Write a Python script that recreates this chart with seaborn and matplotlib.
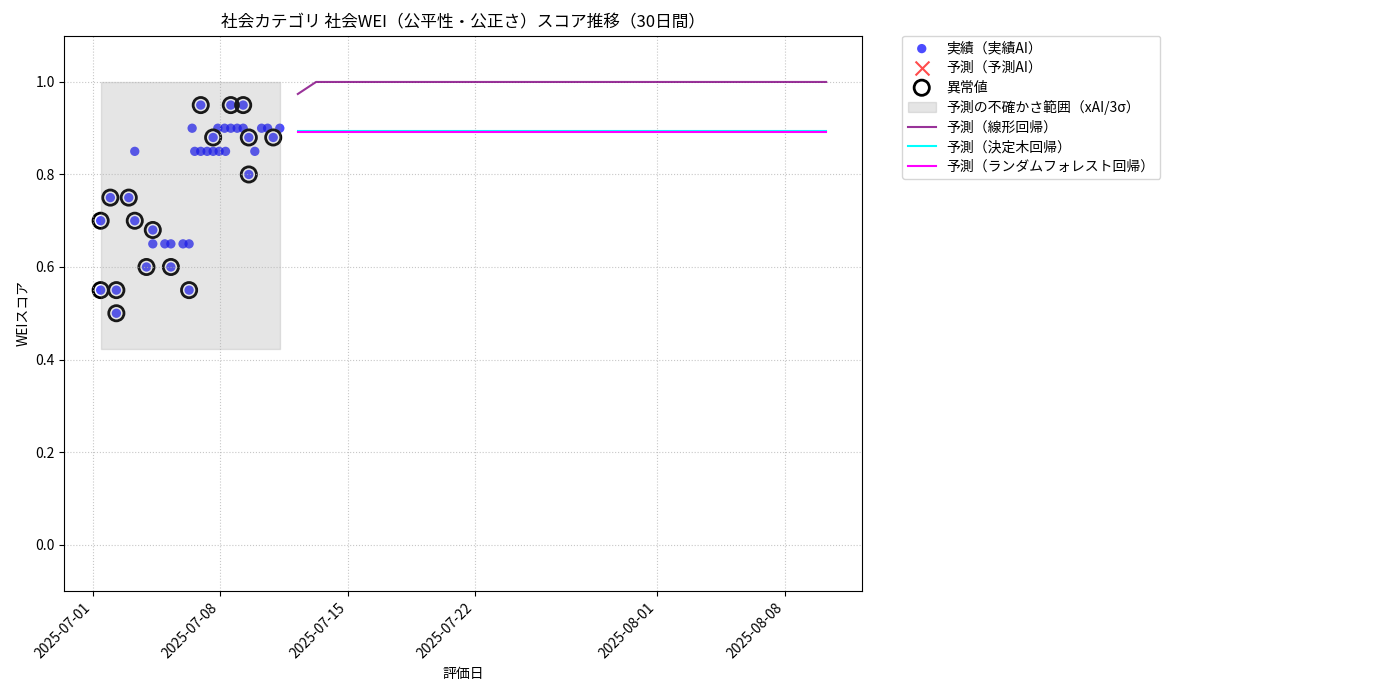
import pandas as pd
import matplotlib
matplotlib.use("Agg")
import matplotlib.pyplot as plt
import seaborn as sns
import numpy as np

plt.rcParams['font.family'] = ['Noto Sans CJK JP', 'DejaVu Sans']

# 実績データ（日時・スコア・異常フラグ）
actual_dates = [
    "2025-07-01 10:30", "2025-07-01 10:30", "2025-07-01 23:15",
    "2025-07-02 07:10", "2025-07-02 07:10", "2025-07-02 23:30",
    "2025-07-03 07:25", "2025-07-03 07:25", "2025-07-03 22:50",
    "2025-07-04 07:10", "2025-07-04 07:10", "2025-07-04 23:00",
    "2025-07-05 07:00", "2025-07-05 07:00", "2025-07-05 23:00",
    "2025-07-06 07:00", "2025-07-06 07:00", "2025-07-06 11:00",
    "2025-07-06 14:25", "2025-07-06 22:20", "2025-07-06 22:20",
    "2025-07-07 06:45", "2025-07-07 14:40", "2025-07-07 14:40",
    "2025-07-07 20:50", "2025-07-07 22:35", "2025-07-08 05:45",
    "2025-07-08 07:00", "2025-07-08 13:55", "2025-07-08 13:55",
    "2025-07-08 22:20", "2025-07-09 06:15", "2025-07-09 06:15",
    "2025-07-09 13:40", "2025-07-09 13:40", "2025-07-09 21:35",
    "2025-07-10 06:30", "2025-07-10 14:25", "2025-07-10 21:50",
    "2025-07-11 06:30",
]
actual_scores = [
    0.70, 0.55, 0.75,
    0.55, 0.50, 0.75,
    0.70, 0.85, 0.60,
    0.68, 0.65, 0.65,
    0.65, 0.60, 0.65,
    0.65, 0.55, 0.90,
    0.85, 0.95, 0.85,
    0.85, 0.88, 0.85,
    0.90, 0.85, 0.90,
    0.85, 0.95, 0.90,
    0.90, 0.95, 0.90,
    0.88, 0.80, 0.85,
    0.90, 0.90, 0.88,
    0.90,
]
is_anomaly = [
    1, 1, 1,
    1, 1, 1,
    1, 0, 1,
    1, 0, 0,
    0, 1, 0,
    0, 1, 0,
    0, 1, 0,
    0, 1, 0,
    0, 0, 0,
    0, 1, 0,
    0, 1, 0,
    1, 1, 0,
    0, 0, 1,
    0,
]

# 不確かさ範囲（xAI/3σ）
band_lower = 0.423
band_upper = 1.0

# 予測（30日間）
forecast_start = "2025-07-12 06:15"
forecast_linear = [0.974] + [1.0] * 29
forecast_tree = [0.893] * 30
forecast_rf = [0.891] * 30

df = pd.DataFrame({
    'date': pd.to_datetime(actual_dates),
    'score': actual_scores,
    'anomaly': [bool(a) for a in is_anomaly],
})
fc = pd.DataFrame({
    'date': pd.date_range(forecast_start, periods=30, freq='D'),
    'linear': forecast_linear,
    'tree': forecast_tree,
    'rf': forecast_rf,
})

fig, ax = plt.subplots(figsize=(14, 7), dpi=100)

sns.scatterplot(data=df, x='date', y='score', color='blue', alpha=0.7,
                s=45, edgecolor='none', label='実績（実績AI）', ax=ax)
ax.scatter([], [], marker='x', color='red', s=100, alpha=0.7, label='予測（予測AI）')
an = df[df['anomaly']]
ax.scatter(an['date'], an['score'], facecolors='none', edgecolors='black',
           s=120, linewidths=2, label='異常値')

band_x = [df['date'].min(), df['date'].max()]
ax.fill_between(band_x, band_lower, band_upper, color='gray', alpha=0.2,
                label='予測の不確かさ範囲（xAI/3σ）')

sns.lineplot(data=fc, x='date', y='linear', color='purple', alpha=0.8,
             linewidth=1.5, label='予測（線形回帰）', ax=ax)
sns.lineplot(data=fc, x='date', y='tree', color='cyan',
             linewidth=1.5, label='予測（決定木回帰）', ax=ax)
sns.lineplot(data=fc, x='date', y='rf', color='magenta',
             linewidth=1.5, label='予測（ランダムフォレスト回帰）', ax=ax)

ax.set_ylim(-0.1, 1.1)
ax.set_title('社会カテゴリ 社会WEI（公平性・公正さ）スコア推移（30日間）', fontsize=12)
ax.set_xlabel('評価日')
ax.set_ylabel('WEIスコア')
ax.grid(True, linestyle=':', alpha=0.7)
plt.setp(ax.get_xticklabels(), rotation=45, ha='right')

handles, labels = ax.get_legend_handles_labels()
order = ['実績（実績AI）', '予測（予測AI）', '異常値', '予測の不確かさ範囲（xAI/3σ）',
         '予測（線形回帰）', '予測（決定木回帰）', '予測（ランダムフォレスト回帰）']
hmap = dict(zip(labels, handles))
ax.legend([hmap[l] for l in order], order, bbox_to_anchor=(1.05, 1),
          loc='upper left', borderaxespad=0., labelspacing=0.4)

plt.subplots_adjust(left=0.046, right=0.616, top=0.949, bottom=0.156)
plt.savefig('out.png', dpi=100)
